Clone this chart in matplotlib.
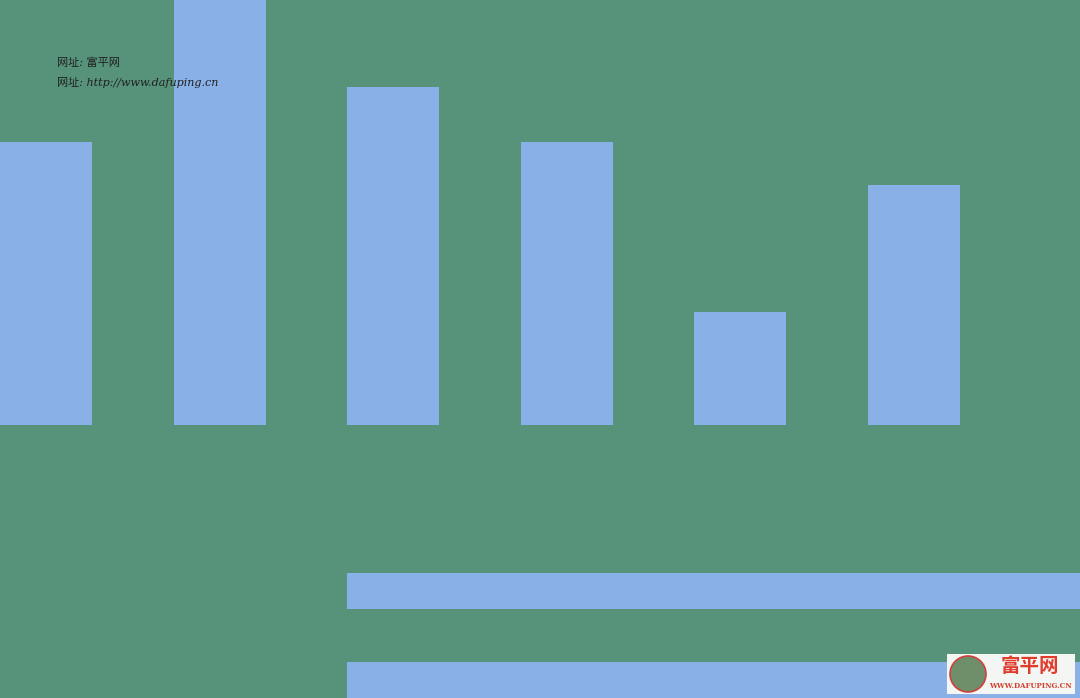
import matplotlib.pyplot as plt
from matplotlib.patches import Rectangle, Circle

plt.rcParams['font.family'] = ['Noto Sans CJK SC', 'DejaVu Sans']

# vertical bars (heights above baseline)
categories = [0, 1, 2, 3, 4, 5]
values = [283, 470, 338, 283, 113, 240]

# horizontal bars
hbar_pos = [-166, -255]
hbar_len = [800, 800]

green = '#56937a'
blue = '#8ab0e8'

fig = plt.figure(figsize=(10.8, 6.98), dpi=100)
fig.patch.set_facecolor(green)
ax = fig.add_axes([0, 0, 1, 1])
ax.set_facecolor(green)

step = 173.5
xs = [46 + step * c for c in categories]
ax.bar(xs, values, width=92, color=blue)
ax.barh(hbar_pos, hbar_len, height=36, left=347, color=blue)

ax.set_xlim(0, 1080)
ax.set_ylim(-273, 425)
ax.axis('off')

# overlay in pixel coords for text and logo
ov = fig.add_axes([0, 0, 1, 1])
ov.set_xlim(0, 1080)
ov.set_ylim(698, 0)
ov.axis('off')
ov.patch.set_alpha(0)

ov.text(57, 63, '网址: 富平网', fontsize=8, style='italic', color='#202020',
        va='center', family=['DejaVu Serif', 'Noto Sans CJK SC'])
ov.text(57, 83, '网址: http://www.dafuping.cn', fontsize=8, style='italic',
        color='#202020', va='center', family=['DejaVu Serif', 'Noto Sans CJK SC'])

ov.add_patch(Rectangle((947, 654), 128, 40, facecolor='#f4f6f4', edgecolor='none'))
ov.add_patch(Circle((968, 674), 18, facecolor='#6f8f6a', edgecolor='#d04040', lw=1.2))
ov.text(1030, 667, '富平网', fontsize=14, color='#e03c2c', fontweight='bold',
        ha='center', va='center')
ov.text(1030, 686, 'WWW.DAFUPING.CN', fontsize=5, color='#d04030', fontweight='bold',
        ha='center', va='center', family='DejaVu Serif')

fig.savefig('out.png', dpi=100, facecolor=green)
